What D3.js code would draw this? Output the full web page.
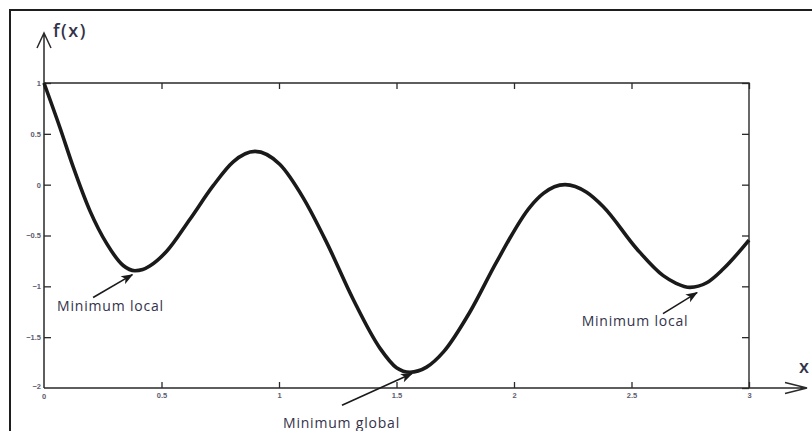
<!DOCTYPE html>
<html>
<head>
<meta charset="utf-8">
<script src="https://cdn.jsdelivr.net/npm/d3@7"></script>
<style>
  body { margin: 0; background: #fff; }
  svg { display: block; }
</style>
</head>
<body>
<div class="chart"></div>
<script>
// curve
var xValues = [0, 0.068, 0.125, 0.196, 0.267, 0.337, 0.387, 0.42, 0.45, 0.522, 0.621, 0.72, 0.805, 0.898, 1.003,
               1.103, 1.203, 1.316, 1.43, 1.50, 1.557, 1.628, 1.70, 1.813, 1.926, 2.068, 2.125, 2.217, 2.309,
               2.38, 2.522, 2.635, 2.69, 2.749, 2.82, 2.89, 3.0];
var yValues = [1, 0.56, 0.17, -0.26, -0.58, -0.795, -0.846, -0.835, -0.80, -0.655, -0.34, -0.01, 0.225, 0.327, 0.20,
               -0.13, -0.57, -1.13, -1.61, -1.80, -1.845, -1.795, -1.645, -1.25, -0.76, -0.22, -0.086, 0.0, -0.075,
               -0.217, -0.63, -0.895, -0.97, -1.01, -0.965, -0.83, -0.545];

var xTicks = [0, 0.5, 1, 1.5, 2, 2.5, 3];
var yTicks = [-2, -1.5, -1, -0.5, 0, 0.5, 1];

// annotations in data units: label, text x (centre), text y (baseline), arrow tail, arrow tip
var noteLabels = ['Minimum local', 'Minimum global', 'Minimum local'];
var noteTextX = [0.283, 1.266, 2.515];
var noteTextY = [-1.24, -2.39, -1.39];
var noteTail = [[0.209, -1.11], [1.268, -2.17], [2.634, -1.268]];
var noteTip = [[0.376, -0.885], [1.566, -1.858], [2.779, -1.062]];

var width = 812, height = 431;
var svg = d3.select('.chart').append('svg')
  .attr('width', width).attr('height', height);

var x = d3.scaleLinear().domain([0, 3]).range([44, 749]);
var y = d3.scaleLinear().domain([-2, 1]).range([388, 83]);

var ink = '#2a2a2a';

// outer frame (runs off the right and bottom)
svg.append('rect')
  .attr('x', 10).attr('y', 10).attr('width', 900).attr('height', 600)
  .attr('fill', 'none').attr('stroke', '#1e1e1e').attr('stroke-width', 2);

var fmt = d3.format('~g');
var tickFont = function(g) {
  g.select('.domain').remove();
  g.selectAll('line').attr('stroke', ink).attr('stroke-width', 1.3);
  g.selectAll('text').attr('fill', '#5c5c70')
    .style('font-family', 'Liberation Sans, Arial, sans-serif')
    .style('font-size', '7.5px').style('font-weight', 'bold');
};

svg.append('g').attr('transform', 'translate(0,388)')
  .call(d3.axisBottom(x).tickValues(xTicks.slice(1)).tickFormat(fmt).tickSize(-6).tickPadding(5))
  .call(tickFont);
svg.append('g').attr('transform', 'translate(0,83)')
  .call(d3.axisTop(x).tickValues(xTicks).tickFormat('').tickSize(-6))
  .call(tickFont);
svg.append('g').attr('transform', 'translate(44,0)')
  .call(d3.axisLeft(y).tickValues(yTicks.slice(1)).tickFormat(fmt).tickSize(-7).tickPadding(3))
  .call(tickFont);
svg.append('g').attr('transform', 'translate(749,0)')
  .call(d3.axisRight(y).tickValues(yTicks).tickFormat('').tickSize(-7))
  .call(tickFont);

// the "-2" and "0" labels at the corner
svg.append('text').attr('x', x(0) - 3).attr('y', y(-2) + 1)
  .attr('text-anchor', 'end').text(fmt(-2))
  .attr('fill', '#5c5c70').style('font-family', 'Liberation Sans, Arial, sans-serif')
  .style('font-size', '7.5px').style('font-weight', 'bold');
svg.append('text').attr('x', x(0)).attr('y', y(-2) + 11)
  .attr('text-anchor', 'middle').text(fmt(0))
  .attr('fill', '#5c5c70').style('font-family', 'Liberation Sans, Arial, sans-serif')
  .style('font-size', '7.5px').style('font-weight', 'bold');

// box top and right
svg.append('path')
  .attr('d', 'M' + x(0) + ',' + y(1) + 'H' + x(3) + 'V' + y(-2))
  .attr('fill', 'none').attr('stroke', ink).attr('stroke-width', 1.4);

// axes with open arrows
svg.append('path')
  .attr('d', 'M' + x(0) + ',' + y(-2) + 'V33 M37,48 L' + x(0) + ',33 L51,48')
  .attr('fill', 'none').attr('stroke', ink).attr('stroke-width', 1.5);
svg.append('path')
  .attr('d', 'M' + x(0) + ',' + y(-2) + 'H807 M785,382.5 L807,' + y(-2) + ' L785,393.5')
  .attr('fill', 'none').attr('stroke', ink).attr('stroke-width', 1.5);

svg.append('text').attr('x', 53).attr('y', 37).text('f(x)')
  .attr('fill', '#33334a').style('font-family', 'Open Sans, sans-serif')
  .style('font-size', '18px').style('font-weight', 600).style('letter-spacing', '1.5px');
svg.append('text').attr('x', 799).attr('y', 373).text('x')
  .attr('fill', '#33334a').style('font-family', 'Open Sans, sans-serif')
  .style('font-size', '18px').style('font-weight', 600);

// the function
var pts = xValues.map(function(d, i) { return [d, yValues[i]]; });
var line = d3.line()
  .x(function(d) { return x(d[0]); })
  .y(function(d) { return y(d[1]); })
  .curve(d3.curveMonotoneX);

svg.append('path').datum(pts)
  .attr('d', line)
  .attr('fill', 'none').attr('stroke', '#1a1a1a').attr('stroke-width', 3.6)
  .attr('stroke-linejoin', 'round');

// annotation arrows
svg.append('defs').append('marker')
  .attr('id', 'head').attr('viewBox', '0 -5 12 10')
  .attr('refX', 11).attr('refY', 0)
  .attr('markerWidth', 13).attr('markerHeight', 10)
  .attr('markerUnits', 'userSpaceOnUse').attr('orient', 'auto')
  .append('path').attr('d', 'M0,-4.5L12,0L0,4.5L3,0Z').attr('fill', '#1a1a1a');

svg.selectAll('.note-arrow').data(noteLabels).enter().append('line')
  .attr('class', 'note-arrow')
  .attr('x1', function(d, i) { return x(noteTail[i][0]); })
  .attr('y1', function(d, i) { return y(noteTail[i][1]); })
  .attr('x2', function(d, i) { return x(noteTip[i][0]); })
  .attr('y2', function(d, i) { return y(noteTip[i][1]); })
  .attr('stroke', '#1a1a1a').attr('stroke-width', 1.6)
  .attr('marker-end', 'url(#head)');

svg.selectAll('.note-text').data(noteLabels).enter().append('text')
  .attr('class', 'note-text')
  .attr('x', function(d, i) { return x(noteTextX[i]); })
  .attr('y', function(d, i) { return y(noteTextY[i]); })
  .attr('text-anchor', 'middle')
  .text(function(d) { return d; })
  .attr('fill', '#33334a').style('font-family', 'Open Sans, sans-serif')
  .style('font-size', '14px').style('letter-spacing', '0.8px');
</script>
</body>
</html>
